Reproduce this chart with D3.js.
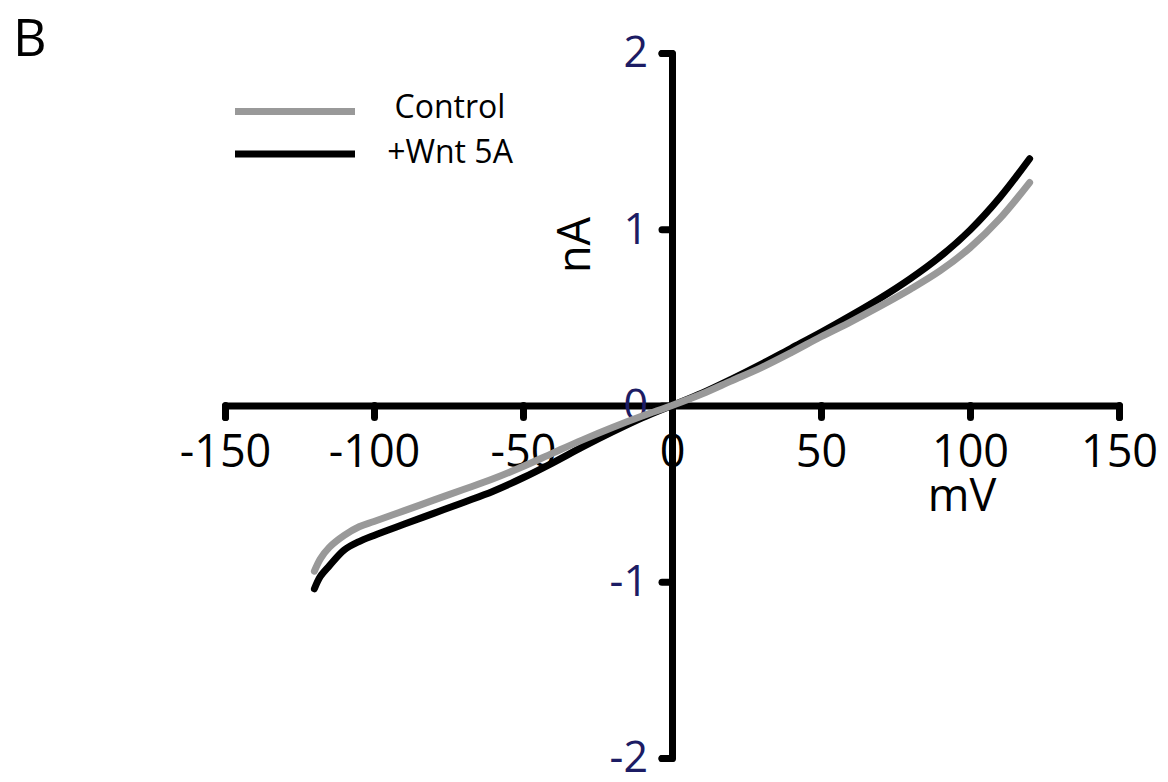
<!DOCTYPE html>
<html>
<head>
<meta charset="utf-8">
<script src="https://cdn.jsdelivr.net/npm/d3@7"></script>
<style>
  html, body { margin: 0; padding: 0; background: #fff; }
  svg { display: block; font-family: "Open Sans", "DejaVu Sans", sans-serif; }
</style>
</head>
<body>
<svg id="chart" width="1168" height="782"></svg>
<script>
// Membrane potential (mV)
const voltage = [-120, -118, -115, -110, -105, -100, -90, -80, -70, -60, -50, -40, -30, -20, -10, 0,
                 10, 20, 30, 40, 50, 60, 70, 80, 90, 100, 110, 120];
// Current (nA), Control
const controlCurrent = [-0.94, -0.87, -0.805, -0.737, -0.688, -0.658, -0.598, -0.537, -0.477, -0.416, -0.346, -0.27, -0.195, -0.125, -0.06, 0.0,
                        0.065, 0.14, 0.215, 0.30, 0.39, 0.475, 0.565, 0.66, 0.765, 0.895, 1.06, 1.265];
// Current (nA), +Wnt 5A
const wntCurrent = [-1.04, -0.97, -0.91, -0.82, -0.772, -0.737, -0.674, -0.612, -0.55, -0.486, -0.41, -0.325, -0.235, -0.15, -0.07, 0.0,
                    0.07, 0.15, 0.235, 0.325, 0.415, 0.51, 0.61, 0.72, 0.845, 0.995, 1.18, 1.40];
const xTicks = [-150, -100, -50, 0, 50, 100, 150];
const yTicks = [-2, -1, 0, 1, 2];
const seriesNames = ["Control", "+Wnt 5A"];
const seriesColors = ["#999999", "#000000"];

const svg = d3.select("#chart");
const x = d3.scaleLinear().domain([-150, 150]).range([225, 1119]);
const y = d3.scaleLinear().domain([-2, 2]).range([758, 53]);

const AXW = 7;
const fmt = d => String(d);

// X axis
const xAxis = svg.append("g")
  .attr("transform", `translate(0,${y(0)})`)
  .call(d3.axisBottom(x).tickValues(xTicks).tickSize(12).tickPadding(18).tickFormat(fmt));
// Y axis
const yAxis = svg.append("g")
  .attr("transform", `translate(${x(0)},0)`)
  .call(d3.axisLeft(y).tickValues(yTicks).tickSize(10).tickPadding(14).tickFormat(fmt));

[xAxis, yAxis].forEach(g => {
  g.attr("font-family", null).attr("font-size", null);
  g.select(".domain").attr("stroke", "#000").attr("stroke-width", AXW)
    .attr("stroke-linejoin", "round").attr("stroke-linecap", "round").attr("fill", "none");
  g.selectAll(".tick line").attr("stroke", "#000").attr("stroke-width", AXW).attr("stroke-linecap", "round");
});
xAxis.selectAll(".tick text").attr("fill", "#000").style("font-size", "45px");
yAxis.selectAll(".tick text").attr("fill", "#1c1c64").style("font-size", "43px");

// Axis titles
svg.append("text").attr("x", 962).attr("y", 511).attr("text-anchor", "middle")
  .style("font-size", "45px").attr("fill", "#000").text("mV");
svg.append("text").attr("transform", `translate(590,245) rotate(-90)`).attr("text-anchor", "middle")
  .style("font-size", "45px").attr("fill", "#000").text("nA");

// Panel letter
svg.append("text").attr("x", 13).attr("y", 56).style("font-size", "52px").attr("fill", "#000").text("B");

// Curves
const line = d3.line().x(d => x(d[0])).y(d => y(d[1])).curve(d3.curveCatmullRom.alpha(0.5));
const series = [
  { name: seriesNames[1], color: seriesColors[1], values: wntCurrent },
  { name: seriesNames[0], color: seriesColors[0], values: controlCurrent }
];
series.forEach(s => {
  svg.append("path")
    .datum(voltage.map((v, i) => [v, s.values[i]]))
    .attr("d", line)
    .attr("fill", "none")
    .attr("stroke", s.color)
    .attr("stroke-width", 7)
    .attr("stroke-linecap", "round")
    .attr("stroke-linejoin", "round");
});

// Legend
const legend = [
  { name: seriesNames[0], color: seriesColors[0], ly: 111.5, ty: 118 },
  { name: seriesNames[1], color: seriesColors[1], ly: 154, ty: 163 }
];
legend.forEach(l => {
  svg.append("line").attr("x1", 235).attr("x2", 355).attr("y1", l.ly).attr("y2", l.ly)
    .attr("stroke", l.color).attr("stroke-width", 7);
  svg.append("text").attr("x", 450).attr("y", l.ty).attr("text-anchor", "middle")
    .style("font-size", "32px").attr("fill", "#000").text(l.name);
});
</script>
</body>
</html>
